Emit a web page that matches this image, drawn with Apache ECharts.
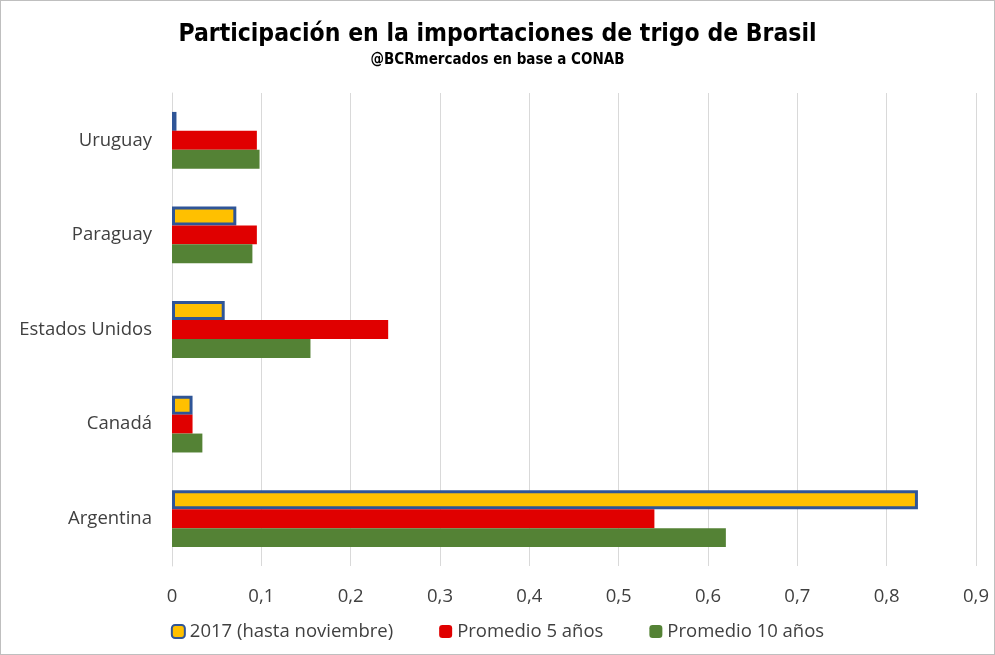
<!DOCTYPE html>
<html><head><meta charset="utf-8">
<script src="https://cdn.jsdelivr.net/npm/echarts@6/dist/echarts.min.js"></script>
<style>
html,body{margin:0;padding:0;background:#fff;}
#c{position:absolute;left:0;top:0;width:993px;height:653px;border:1px solid #bfbfbf;}
</style></head>
<body><div id="c"></div>
<script>
var categories = ['Argentina', 'Canadá', 'Estados Unidos', 'Paraguay', 'Uruguay'];
var serie2017 = [0.835, 0.023, 0.059, 0.072, 0.005];
var prom5 = [0.54, 0.023, 0.242, 0.095, 0.095];
var prom10 = [0.62, 0.034, 0.155, 0.090, 0.098];
var xTicks = [0, 0.1, 0.2, 0.3, 0.4, 0.5, 0.6, 0.7, 0.8, 0.9];
var names = ['2017 (hasta noviembre)', 'Promedio 5 años', 'Promedio 10 años'];

var chart = echarts.init(document.getElementById('c'));
var lbl = {fontFamily: 'Open Sans', fontSize: 18.5, color: '#404040'};
chart.setOption({
  animation: false,
  title: {
    text: 'Participación en la importaciones de trigo de Brasil',
    subtext: '@BCRmercados en base a CONAB',
    left: 'center', top: 16, itemGap: 6,
    textStyle: {fontFamily: "'DejaVu Sans Condensed', 'DejaVu Sans', sans-serif", fontWeight: 'bold', fontSize: 24.5, color: '#000'},
    subtextStyle: {fontFamily: "'DejaVu Sans Condensed', 'DejaVu Sans', sans-serif", fontWeight: 'bold', fontSize: 15, color: '#000'}
  },
  grid: {left: 171, right: 18, top: 92, bottom: 88, containLabel: false},
  legend: {
    data: names, bottom: 8, left: 'center', itemWidth: 13, itemHeight: 13, itemGap: 46,
    textStyle: {fontFamily: 'Open Sans', fontSize: 18.5, color: '#404040'}
  },
  xAxis: {
    type: 'value', min: 0, max: 0.9, interval: 0.1,
    axisLine: {show: false}, axisTick: {show: false},
    splitLine: {lineStyle: {color: '#d9d9d9', width: 1}},
    axisLabel: Object.assign({margin: 21, formatter: function (v) {
      var t = xTicks.find(function (x) { return Math.abs(x - v) < 1e-9; });
      return String(t === undefined ? v : t).replace('.', ',');
    }}, lbl)
  },
  yAxis: {
    type: 'category', data: categories,
    axisLine: {show: true, lineStyle: {color: '#d9d9d9'}}, axisTick: {show: false},
    axisLabel: Object.assign({margin: 20}, lbl)
  },
  series: [
    {name: names[0], type: 'bar', data: serie2017, barGap: '0%', barCategoryGap: '40%', itemStyle: {color: '#ffc000', borderColor: '#2f5597', borderWidth: 3}},
    {name: names[1], type: 'bar', data: prom5, itemStyle: {color: '#e00000'}},
    {name: names[2], type: 'bar', data: prom10, itemStyle: {color: '#548235'}}
  ]
});
</script></body></html>
